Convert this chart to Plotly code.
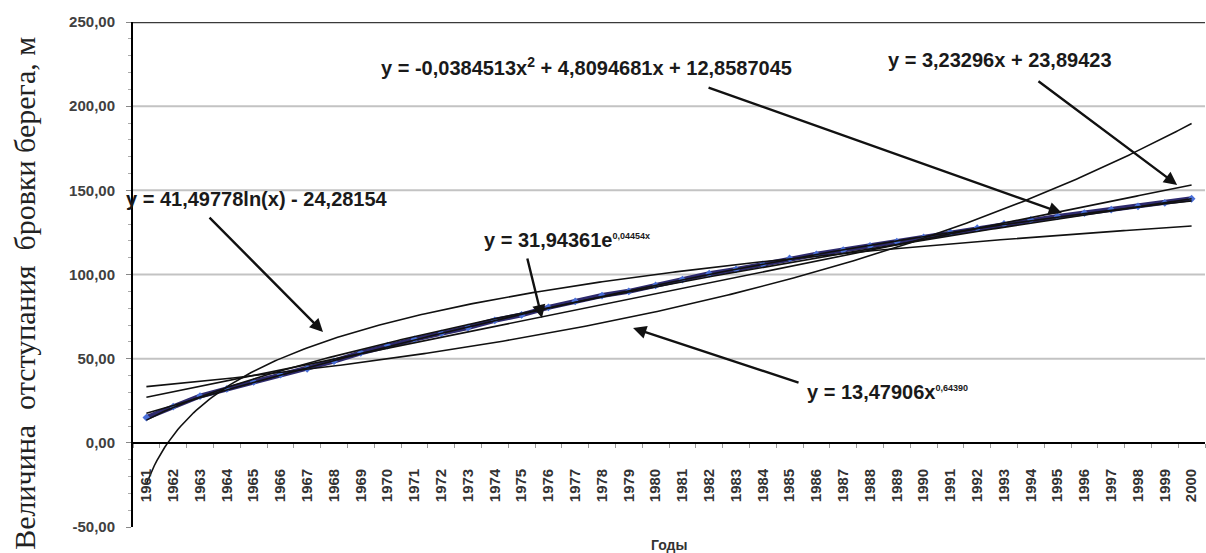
import numpy as np
import plotly.graph_objects as go

# Years of observation and measured retreat of the bank edge, m
years = [1961, 1962, 1963, 1964, 1965, 1966, 1967, 1968, 1969, 1970,
         1971, 1972, 1973, 1974, 1975, 1976, 1977, 1978, 1979, 1980,
         1981, 1982, 1983, 1984, 1985, 1986, 1987, 1988, 1989, 1990,
         1991, 1992, 1993, 1994, 1995, 1996, 1997, 1998, 1999, 2000]
retreat = [15.0, 21.5, 27.8, 32.0, 36.2, 40.5, 44.0, 48.5, 53.5, 57.8,
           61.5, 65.0, 68.5, 72.8, 76.0, 80.5, 84.0, 87.5, 90.0, 93.5,
           97.0, 100.5, 103.0, 106.0, 109.5, 112.0, 114.5, 117.0, 119.5, 122.0,
           125.0, 127.5, 130.0, 132.5, 134.5, 136.5, 138.5, 140.5, 142.5, 145.0]

# Trendline coefficients (x = ordinal number of the year, 1..40)
linear_coef = [3.23296, 23.89423]
poly_coef = [-0.0384513, 4.8094681, 12.8587045]
log_coef = [41.49778, -24.28154]
exp_coef = [31.94361, 0.04454]
power_coef = [13.47906, 0.64390]

y_ticks = [-50, 0, 50, 100, 150, 200, 250]
y_tick_text = ["-50,00", "0,00", "50,00", "100,00", "150,00", "200,00", "250,00"]

idx = np.arange(1, len(years) + 1)
xs = np.linspace(1, len(years), 400)

trends = [
    linear_coef[0] * xs + linear_coef[1],
    poly_coef[0] * xs ** 2 + poly_coef[1] * xs + poly_coef[2],
    log_coef[0] * np.log(xs) + log_coef[1],
    exp_coef[0] * np.exp(exp_coef[1] * xs),
    power_coef[0] * xs ** power_coef[1],
]

fig = go.Figure()

fig.add_trace(go.Scatter(
    x=idx, y=retreat, mode="lines+markers",
    line=dict(color="#2e2a6e", width=5),
    marker=dict(symbol="diamond", size=6, color="#4a6fd8"),
    hoverinfo="skip", showlegend=False,
))
for ty in trends:
    fig.add_trace(go.Scatter(
        x=xs, y=ty, mode="lines",
        line=dict(color="#111111", width=1.6),
        hoverinfo="skip", showlegend=False,
    ))

shapes = []
for g in [50, 100, 150, 200]:
    shapes.append(dict(type="line", xref="paper", yref="y", x0=0, x1=1, y0=g, y1=g,
                       line=dict(color="#c3c3c3", width=2), layer="below"))
shapes.append(dict(type="line", xref="paper", yref="y", x0=0, x1=1, y0=250, y1=250,
                   line=dict(color="#3a3a3a", width=2.5), layer="above"))

eq_font = dict(family="Liberation Sans, Arial", size=20, color="#1a1a1a")
annotations = []

# Equation labels
eq_labels = [
    (5.13, 144.8, "center", "<b>y = 41,49778ln(x) - 24,28154</b>"),
    (17.44, 223.3, "center", "<b>y = -0,0384513x<sup>2</sup> + 4,8094681x + 12,8587045</b>"),
    (32.85, 227.4, "center", "<b>y = 3,23296x + 23,89423</b>"),
    (13.52, 120.5, "left", "<b>y = 31,94361e<sup><span style='font-size:9px'>0,04454x</span></sup></b>"),
    (25.57, 30.2, "left", "<b>y = 13,47906x<sup><span style='font-size:9px'>0,64390</span></sup></b>"),
]
for x, y, anchor, txt in eq_labels:
    annotations.append(dict(x=x, y=y, xref="x", yref="y", text=txt, showarrow=False,
                            xanchor=anchor, yanchor="middle", font=eq_font))

# Pointer arrows (tail -> head)
arrows = [
    ((3.30, 134.7), (7.59, 65.8)),
    ((21.92, 211.4), (35.16, 136.5)),
    ((34.23, 215.5), (39.46, 153.2)),
    ((15.20, 110.4), (15.76, 74.1)),
    ((25.39, 35.5), (19.16, 68.2)),
]
for (tx, ty), (hx, hy) in arrows:
    annotations.append(dict(x=hx, y=hy, ax=tx, ay=ty, xref="x", yref="y",
                            axref="x", ayref="y", text="", showarrow=True,
                            arrowhead=2, arrowsize=1.1, arrowwidth=2.4,
                            arrowcolor="#111111"))

annotations.append(dict(
    x=-0.1007, y=0.462, xref="paper", yref="paper", textangle=-90,
    text="Величина  отступания  бровки берега, м", showarrow=False,
    xanchor="center", yanchor="middle",
    font=dict(family="Liberation Serif, Times New Roman", size=30, color="#222222"),
))
annotations.append(dict(
    x=0.5, y=-0.036, xref="paper", yref="paper", text="<b>Годы</b>", showarrow=False,
    xanchor="center", yanchor="middle",
    font=dict(family="Liberation Sans, Arial", size=14, color="#333333"),
))

fig.update_layout(
    width=1206, height=553,
    margin=dict(l=133, r=1, t=22, b=26),
    paper_bgcolor="white", plot_bgcolor="white",
    shapes=shapes, annotations=annotations,
    xaxis=dict(
        range=[0.5, len(years) + 0.5],
        tickmode="array", tickvals=idx, ticktext=[str(y) for y in years],
        tickangle=-90,
        tickfont=dict(family="Liberation Sans, Arial", size=15, color="#333333", weight="bold"),
        anchor="free", position=1 / 6,
        showline=True, linecolor="#000000", linewidth=2,
        showgrid=False, zeroline=False, ticks="",
        ticklabelstandoff=19,
        minor=dict(tick0=0.5, dtick=1, ticks="outside", ticklen=4, tickcolor="#999999"),
    ),
    yaxis=dict(
        range=[-50, 250], domain=[0, 1],
        tickmode="array", tickvals=y_ticks, ticktext=y_tick_text,
        tickfont=dict(family="Liberation Sans, Arial", size=15, color="#404040", weight="bold"),
        showline=True, linecolor="#000000", linewidth=2,
        showgrid=False, zeroline=False,
        ticks="outside", ticklen=5, tickcolor="#888888",
        ticklabelstandoff=8,
        minor=dict(dtick=10, ticks="outside", ticklen=3, tickcolor="#aaaaaa"),
    ),
)

fig.write_html("out.html")
